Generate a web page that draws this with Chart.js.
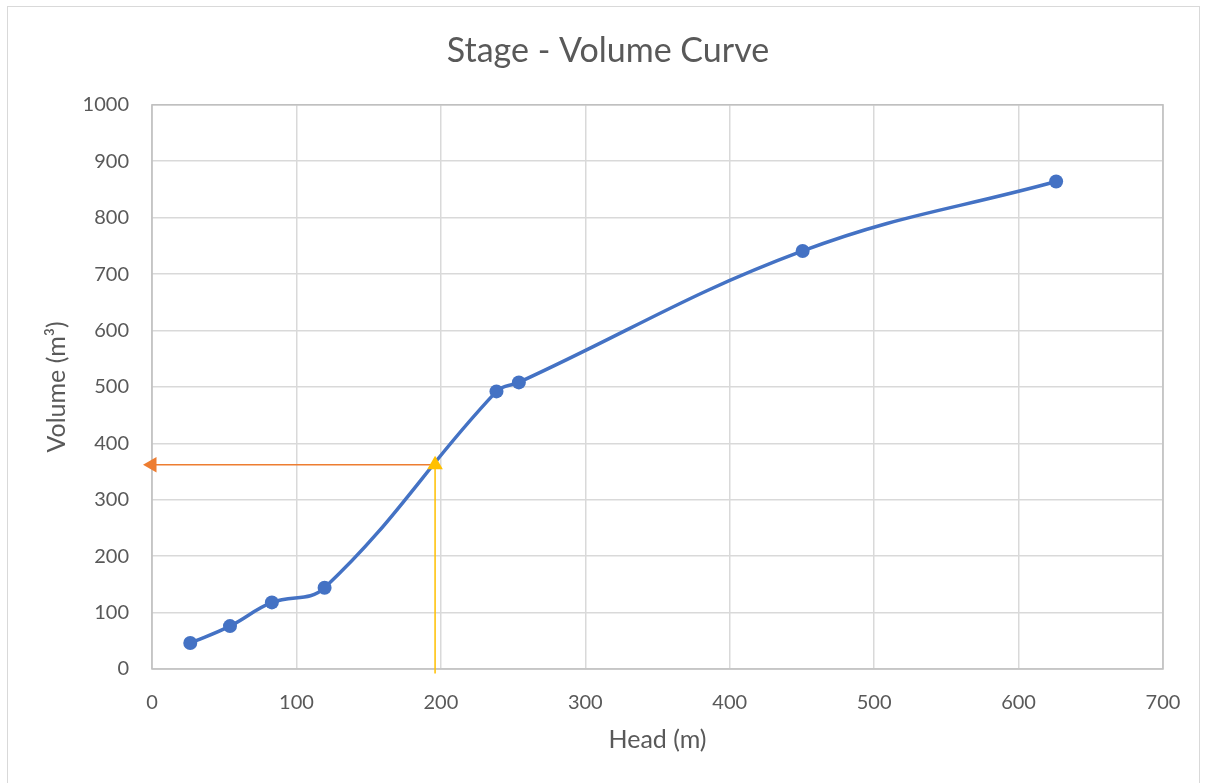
<!DOCTYPE html>
<html>
<head>
<meta charset="utf-8">
<script src="https://cdn.jsdelivr.net/npm/chart.js@4.4.1/dist/chart.umd.min.js"></script>
<style>
  html, body { margin: 0; padding: 0; background: #fff; }
  #wrap { position: relative; width: 1205px; height: 783px; }
</style>
</head>
<body>
<div id="wrap"><canvas id="myChart" width="1205" height="783"></canvas></div>
<script>
// data
var headM = [26.5, 54, 83, 119.5, 238.5, 254, 450.5, 626];
var volumeM3 = [46, 76, 118, 144, 492, 508, 741, 864];
var readHead = 196;
var readVolume = 362;
var xTicks = [0, 100, 200, 300, 400, 500, 600, 700];
var yTicks = [0, 100, 200, 300, 400, 500, 600, 700, 800, 900, 1000];

var curve = [];
for (var i = 0; i < headM.length; i++) {
  curve.push({x: headM[i], y: volumeM3[i]});
}

var textColor = '#595959';
var fontName = 'Lato';

// frame round the whole chart and border of plot area
var framePlugin = {
  id: 'frame',
  beforeDraw: function(chart) {
    var ctx = chart.ctx;
    ctx.save();
    ctx.fillStyle = '#fff';
    ctx.fillRect(0, 0, chart.width, chart.height);
    ctx.strokeStyle = '#d9d9d9';
    ctx.lineWidth = 1;
    ctx.strokeRect(7.5, 6.5, 1192, 820);
    ctx.restore();
  },
  beforeDatasetsDraw: function(chart) {
    var a = chart.chartArea;
    var ctx = chart.ctx;
    ctx.save();
    ctx.strokeStyle = '#bfbfbf';
    ctx.lineWidth = 1.5;
    ctx.strokeRect(a.left, a.top, a.right - a.left, a.bottom - a.top);
    ctx.restore();
  }
};

var ctx = document.getElementById('myChart').getContext('2d');
var chart = new Chart(ctx, {
  type: 'scatter',
  data: {
    datasets: [
      {
        // reading line up from head axis
        data: [{x: readHead, y: readVolume}, {x: readHead, y: -8}],
        showLine: true,
        borderColor: '#FFC000',
        backgroundColor: '#FFC000',
        borderWidth: 1.5,
        pointStyle: 'triangle',
        pointRadius: [9, 0],
        pointBorderWidth: 0,
        clip: false,
        order: 1
      },
      {
        // reading line across to volume axis
        data: [{x: readHead, y: readVolume}, {x: 0, y: readVolume}],
        showLine: true,
        borderColor: '#ED7D31',
        backgroundColor: '#ED7D31',
        borderWidth: 1.5,
        pointStyle: 'triangle',
        rotation: [0, -90],
        pointRadius: [0, 9],
        pointBorderWidth: 0,
        clip: false,
        order: 2
      },
      {
        label: 'Volume',
        data: curve,
        showLine: true,
        tension: 0.4,
        borderColor: '#4472C4',
        backgroundColor: '#4472C4',
        borderWidth: 3.5,
        pointRadius: 7,
        pointBorderWidth: 0,
        order: 3
      }
    ]
  },
  options: {
    responsive: false,
    animation: false,
    events: [],
    layout: { padding: { left: 53, right: 42, top: 0, bottom: 0 } },
    plugins: {
      legend: { display: false },
      tooltip: { enabled: false },
      title: {
        display: true,
        text: 'Stage - Volume Curve',
        color: textColor,
        font: { family: fontName, size: 34, weight: 'normal' },
        padding: { top: 31, bottom: 33 }
      }
    },
    scales: {
      x: {
        type: 'linear',
        min: 0,
        max: 700,
        afterBuildTicks: function(scale) {
          scale.ticks = xTicks.map(function(v) { return {value: v}; });
        },
        afterFit: function(scale) { scale.height = 114; },
        grid: { color: '#d9d9d9', lineWidth: 1.5, drawTicks: false },
        border: { display: false },
        ticks: {
          color: textColor, padding: 22, font: { family: fontName, size: 20 },
          callback: function(v) { return String(v); }
        },
        title: {
          display: true,
          text: 'Head (m)',
          color: textColor,
          font: { family: fontName, size: 25 },
          padding: { top: 0, bottom: 28 }
        }
      },
      y: {
        type: 'linear',
        min: 0,
        max: 1000,
        afterBuildTicks: function(scale) {
          scale.ticks = yTicks.map(function(v) { return {value: v}; });
        },
        afterFit: function(scale) { scale.width = 99; },
        grid: { color: '#d9d9d9', lineWidth: 1.5, drawTicks: false },
        border: { display: false },
        ticks: {
          color: textColor, padding: 23, font: { family: fontName, size: 20 },
          callback: function(v) { return String(v); }
        },
        title: {
          display: true,
          text: 'Volume (m³)',
          color: textColor,
          font: { family: fontName, size: 25 },
          padding: { top: -11, bottom: 0 }
        }
      }
    }
  },
  plugins: [framePlugin]
});
</script>
</body>
</html>
